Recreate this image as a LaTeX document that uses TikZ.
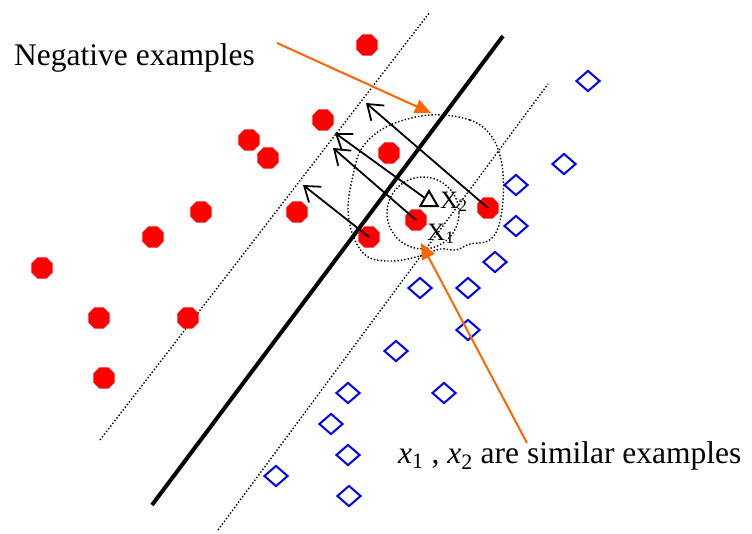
\documentclass[tikz,border=0pt]{standalone}
\usepackage{fontspec}
\setmainfont{Liberation Serif}
\usetikzlibrary{arrows.meta,shapes.geometric}
\definecolor{pointer}{RGB}{255,102,0}

\begin{document}
\begin{tikzpicture}[x=1pt, y=-1pt,
  negex/.style={regular polygon, regular polygon sides=8, minimum size=23pt, inner sep=0pt, fill=red},
  posex/.style={diamond, draw=blue, line width=2pt, minimum width=24pt, minimum height=21pt, inner sep=0pt},
  query/.style={regular polygon, regular polygon sides=3, draw, line width=2pt, minimum size=20pt, inner sep=0pt},
  hyper/.style={line width=4pt},
  marg/.style={line width=1.4pt, dash pattern=on 1.4pt off 2pt},
  proj/.style={-{Straight Barb[length=14pt,width=20pt]}, line width=1.8pt},
  pointarr/.style={-{Triangle[length=16pt,width=14pt]}, pointer, line width=2pt},
  lbl/.style={font=\fontsize{31.5}{36}\selectfont, inner sep=0pt, anchor=base west},
  xlbl/.style={font=\fontsize{25}{28}\selectfont, inner sep=0pt, anchor=base west}
]
\useasboundingbox (0,0) rectangle (752,533);

% margins and separating line
\coordinate (l1) at (100,440);
\coordinate (l2) at (430,12);
\coordinate (r1) at (218,530);
\coordinate (r2) at (548,84);
\coordinate (h1) at (152,505);
\coordinate (h2) at (503,36);
\draw[marg] (l1) -- (l2);
\draw[marg] (r1) -- (r2);

% neighbourhoods
\draw[marg] plot[smooth cycle, tension=0.6] coordinates {(430,115) (470,120) (492,137) (502,165) (503,200) (498,228) (488,241) (470,244) (456,250) (440,249) (420,256) (393,261) (368,257) (354,238) (348,210) (352,180) (362,148) (388,126)};
\draw[marg] (423,213) circle (36);

\draw[hyper] (h1) -- (h2);

% negative examples
\node[negex] (n1) at (367,45) {};
\node[negex] (n2) at (323,120) {};
\node[negex] (n3) at (249,140) {};
\node[negex] (n4) at (268,158) {};
\node[negex] (n5) at (389,153) {};
\node[negex] (n6) at (201,212) {};
\node[negex] (n7) at (297,212) {};
\node[negex] (n8) at (153,237) {};
\node[negex] (n9) at (42,268) {};
\node[negex] (n10) at (99,318) {};
\node[negex] (n11) at (188,318) {};
\node[negex] (n12) at (104,378) {};
\node[negex] (n13) at (369,237) {};
\node[negex] (x1) at (416,220) {};
\node[negex] (n15) at (488,208) {};

% positive examples
\node[posex] (p1) at (588,81) {};
\node[posex] (p2) at (564,164) {};
\node[posex] (p3) at (516,185) {};
\node[posex] (p4) at (516,226) {};
\node[posex] (p5) at (495,262) {};
\node[posex] (p6) at (420,288) {};
\node[posex] (p7) at (468,288) {};
\node[posex] (p8) at (468,330) {};
\node[posex] (p9) at (396,351) {};
\node[posex] (p10) at (348,393) {};
\node[posex] (p11) at (444,393) {};
\node[posex] (p12) at (331,424) {};
\node[posex] (p13) at (348,455) {};
\node[posex] (p14) at (276,476) {};
\node[posex] (p15) at (349,496) {};

\node[query] (x2) at (429,201) {};
\node[xlbl] (x2lbl) at (440,208) {X\textsubscript{2}};
\node[xlbl] (x1lbl) at (427,240) {X\textsubscript{1}};

% projections onto the margin
\coordinate (m1) at (366,103);
\coordinate (m2) at (335,133);
\coordinate (m3) at (333,148);
\coordinate (m4) at (303,185);
\draw[proj] (n15.center) -- (m1);
\draw[proj] (x2) -- (m2);
\draw[proj] (x1.center) -- (m3);
\draw[proj] (n13.center) -- (m4);

% labels
\node[lbl] (neglbl) at (14,65) {Negative examples};
\node[lbl] (simlbl) at (398,463) {\textit{x}\textsubscript{1} , \textit{x}\textsubscript{2} are similar examples};
\coordinate (c1) at (277,43);
\coordinate (c2) at (431,113);
\coordinate (c3) at (527,443);
\coordinate (c4) at (421,243);
\draw[pointarr] (c1) -- (c2);
\draw[pointarr] (c3) -- (c4);

\end{tikzpicture}
\end{document}
